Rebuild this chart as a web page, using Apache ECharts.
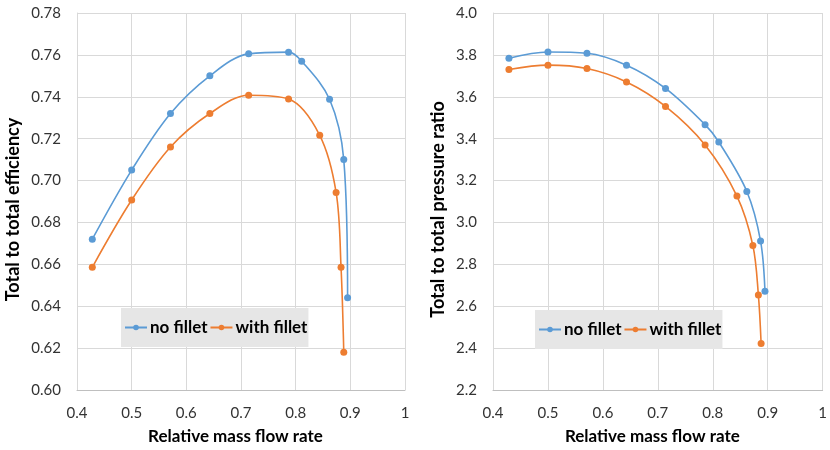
<!DOCTYPE html>
<html>
<head>
<meta charset="utf-8">
<script src="https://cdn.jsdelivr.net/npm/echarts@6/dist/echarts.min.js"></script>
<style>html,body{margin:0;padding:0;background:#fff}#c{width:830px;height:450px}</style>
</head>
<body>
<div id="c"></div>
<script>
// Relative mass flow rate (x) and values
const effNoFilletX = [0.428, 0.500, 0.571, 0.643, 0.714, 0.787, 0.811, 0.862, 0.888, 0.895];
const effNoFilletY = [0.672, 0.705, 0.732, 0.750, 0.7605, 0.7613, 0.757, 0.7388, 0.710, 0.644];
const effFilletX = [0.428, 0.500, 0.571, 0.643, 0.714, 0.787, 0.844, 0.874, 0.883, 0.888];
const effFilletY = [0.6586, 0.6907, 0.716, 0.732, 0.7407, 0.7389, 0.7216, 0.6943, 0.6586, 0.618];

const prNoFilletX = [0.429, 0.500, 0.571, 0.643, 0.714, 0.786, 0.811, 0.862, 0.887, 0.895];
const prNoFilletY = [3.784, 3.814, 3.808, 3.751, 3.640, 3.467, 3.384, 3.148, 2.911, 2.671];
const prFilletX = [0.429, 0.500, 0.571, 0.643, 0.714, 0.786, 0.844, 0.873, 0.883, 0.888];
const prFilletY = [3.730, 3.751, 3.735, 3.671, 3.554, 3.370, 3.126, 2.890, 2.654, 2.422];

const seriesNames = ['no fillet', 'with fillet'];
const xTicks = {min: 0.4, max: 1, interval: 0.1};
const effTicks = {min: 0.60, max: 0.78, interval: 0.02};
const prTicks = {min: 2.2, max: 4.0, interval: 0.2};
const xTitle = 'Relative mass flow rate';
const effTitle = 'Total to total efficiency';
const prTitle = 'Total to total pressure ratio';

const BLUE = '#5B9BD5', ORANGE = '#ED7D31';
const FONT = 'Lato';
const zip = (xs, ys) => xs.map((x, i) => [x, ys[i]]);

function xAxis(idx) {
  return {
    type: 'value', gridIndex: idx, min: xTicks.min, max: xTicks.max, interval: xTicks.interval,
    name: xTitle, nameLocation: 'middle', nameGap: 38,
    nameTextStyle: {fontFamily: FONT, fontWeight: 'bold', fontSize: 17, color: '#000', padding: [0, 11, 0, 0]},
    axisLine: {show: true, lineStyle: {color: '#bfbfbf', width: 1}},
    axisTick: {show: false},
    axisLabel: {fontFamily: FONT, fontSize: 15, color: '#333', margin: 16,
      formatter: v => (Math.abs(v - 1) < 1e-9 ? '1' : v.toFixed(1))},
    splitLine: {show: true, lineStyle: {color: '#d9d9d9', width: 1}}
  };
}
function yAxis(idx, t, title, dec, gap) {
  return {
    type: 'value', gridIndex: idx, min: t.min, max: t.max, interval: t.interval,
    name: title, nameLocation: 'middle', nameGap: gap, nameRotate: 90,
    nameTextStyle: {fontFamily: FONT, fontWeight: 'bold', fontSize: 18, color: '#000', padding: [0, 16, 0, 0]},
    axisLine: {show: true, lineStyle: {color: '#d9d9d9', width: 1}},
    axisTick: {show: false},
    axisLabel: {fontFamily: FONT, fontSize: 15, color: '#333', margin: 16,
      formatter: v => v.toFixed(dec)},
    splitLine: {show: true, lineStyle: {color: '#d9d9d9', width: 1}}
  };
}
function line(name, color, data, idx) {
  return {
    type: 'line', name, xAxisIndex: idx, yAxisIndex: idx, data, smooth: 0.34,
    symbol: 'circle', symbolSize: 7, showSymbol: true,
    lineStyle: {color, width: 1.6}, itemStyle: {color},
    emphasis: {disabled: true}, animation: false
  };
}
function legend(left, top) {
  return {
    data: seriesNames, left, top, orient: 'horizontal',
    backgroundColor: '#e6e6e6', padding: [11, 1, 11, 3], itemGap: 2,
    itemWidth: 22, itemHeight: 7,
    textStyle: {fontFamily: FONT, fontWeight: 'bold', fontSize: 17, color: '#000', padding: [0, 0, 0, -2]},
    selectedMode: false
  };
}

const chart = echarts.init(document.getElementById('c'), null, {renderer: 'canvas'});
chart.setOption({
  animation: false,
  backgroundColor: '#fff',
  grid: [
    {left: 77, top: 13, width: 328, height: 378},
    {left: 493, top: 13, width: 336, height: 378}
  ],
  xAxis: [xAxis(0), xAxis(1)],
  yAxis: [yAxis(0, effTicks, effTitle, 2, 55), yAxis(1, prTicks, prTitle, 1, 46)],
  legend: [legend(121, 308), legend(535, 310)],
  series: [
    line(seriesNames[0], BLUE, zip(effNoFilletX, effNoFilletY), 0),
    line(seriesNames[1], ORANGE, zip(effFilletX, effFilletY), 0),
    line(seriesNames[0], BLUE, zip(prNoFilletX, prNoFilletY), 1),
    line(seriesNames[1], ORANGE, zip(prFilletX, prFilletY), 1)
  ]
});
</script>
</body>
</html>
